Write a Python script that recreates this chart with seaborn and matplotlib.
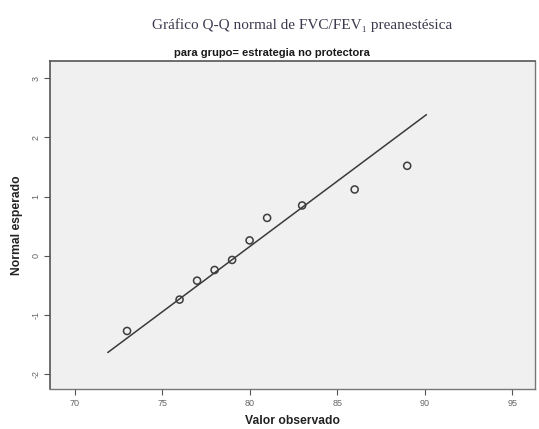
import numpy as np
import pandas as pd
import matplotlib
matplotlib.use("Agg")
import matplotlib.pyplot as plt
import seaborn as sns

# Observed FVC/FEV1 values and their expected normal scores
observed = [73, 76, 77, 78, 79, 80, 81, 83, 86, 89]
expected = [-1.27, -0.74, -0.42, -0.24, -0.07, 0.26, 0.64, 0.85, 1.12, 1.52]

# Reference normal line (sample mean and standard deviation)
line_mean = 79.3
line_sd = 4.53
line_x = [71.9, 90.1]

x_ticks = [70, 75, 80, 85, 90, 95]
y_ticks = [-2, -1, 0, 1, 2, 3]

title = "Gráfico Q-Q normal de FVC/FEV\u2081 preanestésica"
subtitle = "para grupo= estrategia no protectora"
x_label = "Valor observado"
y_label = "Normal esperado"

sns.set_theme(style="white")
plt.rcParams["font.family"] = ["Liberation Sans", "DejaVu Sans"]

df = pd.DataFrame({"observed": observed, "expected": expected})
line_df = pd.DataFrame({"x": line_x,
                        "y": [(v - line_mean) / line_sd for v in line_x]})

fig = plt.figure(figsize=(5.39, 4.29), dpi=100)
fig.patch.set_facecolor("white")
ax = fig.add_axes([50 / 539, 40 / 429, 485 / 539, 328 / 429])
ax.set_facecolor("#f0f0f0")

sns.lineplot(data=line_df, x="x", y="y", ax=ax, color="#3a3a3a", linewidth=1.1)
sns.scatterplot(data=df, x="observed", y="expected", ax=ax, marker="o",
                s=26, facecolors="none", edgecolor="#3c3c3c", linewidth=1.1,
                zorder=3)

ax.set_xlim(68.6, 96.3)
ax.set_ylim(-2.25, 3.29)
ax.set_xticks(x_ticks)
ax.set_yticks(y_ticks)
ax.set_xticklabels([str(v) for v in x_ticks])
ax.set_yticklabels([str(v) for v in y_ticks], rotation=90, va="center")
ax.tick_params(axis="both", which="major", direction="out", length=4,
               width=0.8, color="#555555", labelsize=6.5, labelcolor="#666666",
               bottom=True, left=True, pad=3)

for side in ["top", "left"]:
    ax.spines[side].set_color("#555555")
    ax.spines[side].set_linewidth(1.2)
for side in ["right", "bottom"]:
    ax.spines[side].set_color("#777777")
    ax.spines[side].set_linewidth(1.0)

ax.set_xlabel(x_label, fontsize=8.7, fontweight="bold", color="#222222", labelpad=5)
ax.set_ylabel(y_label, fontsize=8.7, fontweight="bold", color="#222222", labelpad=6)

fig.text(302 / 539, 1 - 25 / 429, title, ha="center", va="center",
         fontsize=11, color="#3a3a4e",
         family=["Liberation Serif", "DejaVu Serif"])
fig.text(272 / 539, 1 - 53 / 429, subtitle, ha="center", va="center",
         fontsize=8.0, fontweight="bold", color="#1a1a1a")

fig.savefig("out.png", dpi=100)
